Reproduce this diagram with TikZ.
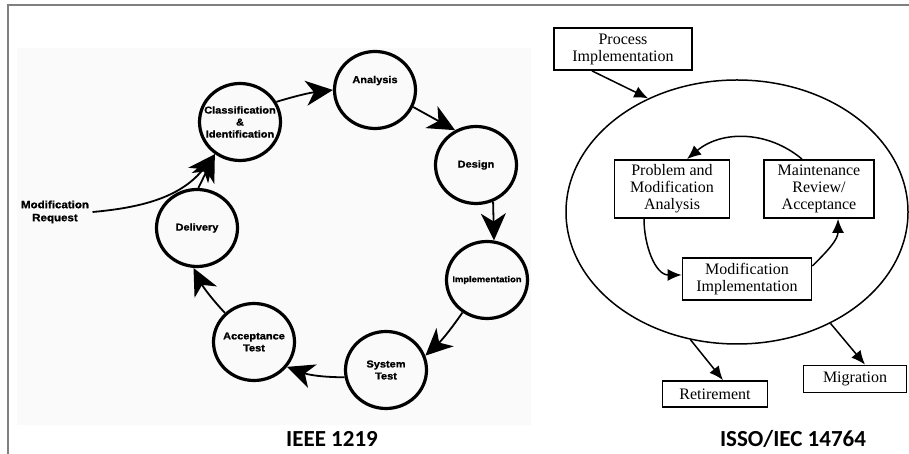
\documentclass[tikz,border=0pt]{standalone}
\usepackage{fontspec}
\setmainfont{Liberation Serif}
\newfontfamily\ieeefont{Liberation Sans}[FakeStretch=1.1, FakeBold=1.2]
\newfontfamily\titlefont{Carlito}
\usepackage{tikz}
\definecolor{framegray}{RGB}{128,128,128}
\definecolor{pastegray}{RGB}{250,250,250}
\usetikzlibrary{arrows.meta, positioning, shapes.geometric, calc}
\tikzset{
    ieeestage/.style={ellipse, draw, minimum width=81pt, minimum height=77pt, inner sep=-10pt, line width=3.2pt, align=center, font=\ieeefont\bfseries\fontsize{10}{12}\selectfont},
    ieeearrow/.style={-{Stealth[length=27pt, width=25pt, inset=8pt]}, line width=1.8pt},
    ieeelabel/.style={align=center, font=\ieeefont\bfseries\fontsize{10.5}{13}\selectfont},
    isobox/.style={draw, line width=1.8pt, align=center, inner sep=0pt, font=\fontsize{16}{17}\selectfont},
    isoring/.style={ellipse, draw, line width=1.5pt},
    isoarrow/.style={-{Latex[length=14pt, width=12pt]}, line width=1.5pt},
    titletext/.style={anchor=base, inner sep=0pt, font=\titlefont\bfseries\fontsize{23}{28}\selectfont}
}

\begin{document}
\begin{tikzpicture}[x=1pt, y=1pt, >=Stealth]
  \useasboundingbox (0,0) rectangle (909,454);
  \fill[pastegray] (17,29) rectangle (531,406);
  \draw[framegray, line width=2pt] (8,0) -- (8,448.5) -- (909,448.5);

  \node[ieeestage] (cls) at (240,332) {Classification\\\&\\Identification};
  \node[ieeestage] (ana) at (375,364) {Analysis\\[9pt]};
  \node[ieeestage] (des) at (476,289) {Design};
  \node[ieeestage, font=\ieeefont\bfseries\fontsize{8.5}{10}\selectfont]
    (impl) at (487,174) {Implementation};
  \node[ieeestage] (sys) at (386,84) {System\\Test};
  \node[ieeestage] (acc) at (254,112) {Acceptance\\Test};
  \node[ieeestage] (del) at (197,226) {Delivery};
  \node[ieeelabel] (mreq) at (55,242) {Modification\\Request};

  \draw[ieeearrow] (cls.29) to[bend left=5] (ana.west);
  \draw[ieeearrow] (ana.-24) -- (des.121);
  \draw[ieeearrow] (des.-65) -- (impl.80);
  \draw[ieeearrow] (impl.233) to[bend left=6] (sys.20);
  \draw[ieeearrow] (sys.190) to[bend left=10] (acc.-37);
  \draw[ieeearrow] (acc.135) to[bend left=8] (del.-95);
  \draw[ieeearrow] (del.88) -- (cls.232);
  \draw[ieeearrow] (mreq.east) to[out=5, in=232] (cls.232);

  \node[isobox, minimum width=138pt, minimum height=42pt] (proc) at (623,405) {Process\\Implementation};
  \node[isoring, minimum width=342pt, minimum height=264pt] (ring) at (737,242) {};
  \node[isobox, minimum width=115pt, minimum height=58pt] (prob) at (672,265) {Problem and\\Modification\\Analysis};
  \node[isobox, minimum width=110pt, minimum height=58pt] (mrev) at (819,265) {Maintenance\\Review/\\Acceptance};
  \node[isobox, minimum width=129pt, minimum height=42pt] (mimpl) at (747,175) {Modification\\Implementation};
  \node[isobox, minimum width=105pt, minimum height=26pt] (ret) at (715,60) {Retirement};
  \node[isobox, minimum width=103pt, minimum height=27pt] (mig) at (855,75) {Migration};

  \draw[isoarrow] ([xshift=-31pt]proc.south) -- (ring.128);
  \draw[isoarrow] ([xshift=-17pt]mrev.north) to[bend right=40] ([xshift=15pt]prob.north);
  \draw[isoarrow] ([xshift=-28pt]prob.south) to[out=-90, in=180] ([yshift=4pt]mimpl.west);
  \draw[isoarrow] ([yshift=13pt]mimpl.east) to[out=45, in=-90] ([xshift=19pt]mrev.south);
  \draw[isoarrow] (ring.250) -- ([xshift=8pt]ret.north);
  \draw[isoarrow] (ring.310) -- ([xshift=10pt]mig.north);

  \node[titletext] (ieeetitle) at (332,7) {IEEE 1219};
  \node[titletext] (isotitle) at (793,7) {ISSO/IEC 14764};
\end{tikzpicture}
\end{document}
